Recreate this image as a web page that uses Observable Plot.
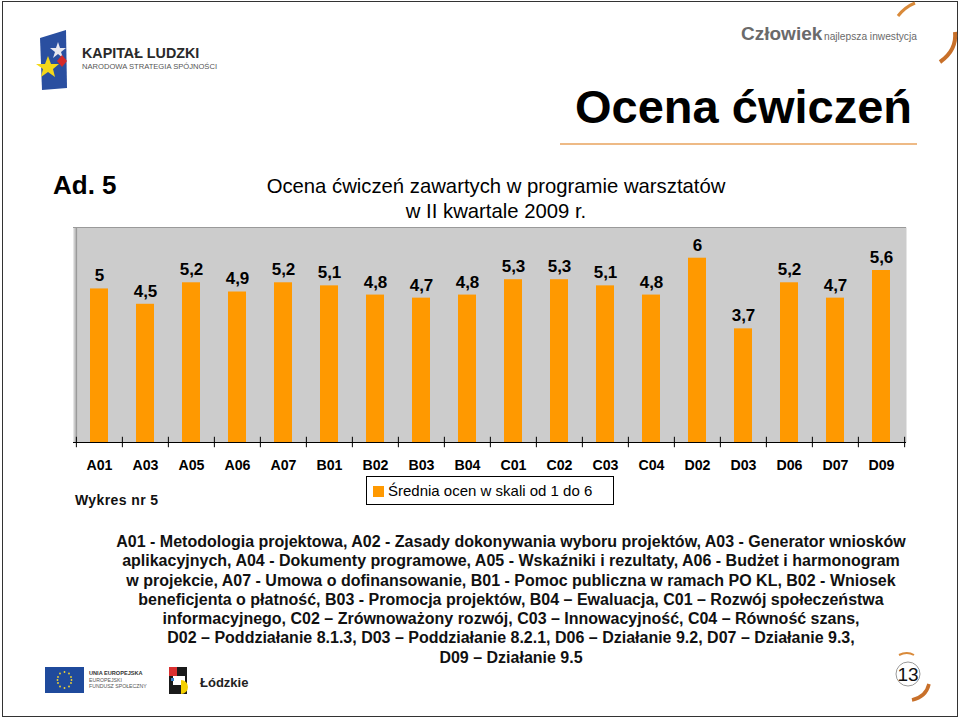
<!DOCTYPE html>
<html>
<head>
<meta charset="utf-8">
<script src="https://cdn.jsdelivr.net/npm/d3@7"></script>
<script src="https://cdn.jsdelivr.net/npm/@observablehq/plot@0.6"></script>
<style>
  html, body { margin: 0; padding: 0; background: #fff; }
  body { width: 960px; height: 718px; position: relative; overflow: hidden; font-family: "Liberation Sans", Arial, sans-serif; }
  .abs { position: absolute; white-space: nowrap; }
  #frame { position: absolute; left: 2px; top: 1px; border: 1.5px solid #333; box-sizing: border-box; width: 956px; height: 716px; }
  #chart { position: absolute; left: 0; top: 200px; }
  #caption { position: absolute; left: 61px; width: 900px; top: 532px; text-align: center; font-weight: bold; font-size: 16px; line-height: 19.3px; color: #111; }
</style>
</head>
<body>
<div id="frame"></div>

<!-- decorative logos -->
<svg class="abs" style="left:0;top:0" width="960" height="718">
  <!-- Kapitał Ludzki -->
  <path d="M40,38 L66,30 L67,88 L42,90 Z" fill="#2a4fa0"/>
  <polygon points="58,42 60,48 66,48 61,52 63,58 58,54 53,58 55,52 50,48 56,48" fill="#e8e8f0"/>
  <polygon points="48,56 51,64 59,64 53,69 55,77 48,72 41,77 43,69 36,64 45,64" fill="#f4d81a"/>
  <polygon points="62,55 67,61 62,67 57,61" fill="#d42a2a"/>
  <text x="82" y="58" font-family="Liberation Sans, Arial" font-weight="bold" font-size="14.3" fill="#2a2a2a">KAPITAŁ LUDZKI</text>
  <text x="82" y="69" font-family="Liberation Sans, Arial" font-size="7.6" fill="#555">NARODOWA STRATEGIA SPÓJNOŚCI</text>
  <!-- Człowiek -->
  <text x="741" y="40" font-family="Liberation Sans, Arial" font-weight="bold" font-size="19" fill="#6a6a6a">Człowiek</text>
  <text x="824" y="40" font-family="Liberation Sans, Arial" font-size="10.2" fill="#6a6a6a">najlepsza inwestycja</text>
  <path d="M898,16 Q905,7 915,3" stroke="#d98a3a" stroke-width="3" fill="none"/>
  <path d="M955,32 Q957,50 940,62" stroke="#c8702a" stroke-width="4" fill="none"/>
  <!-- title underline -->
  <line x1="560" y1="144" x2="917" y2="144" stroke="#e8a35e" stroke-width="1.5"/>
  <!-- EU -->
  <rect x="45" y="667" width="39" height="26" fill="#1f4a9c"/>
  <g fill="#f2d530">
    <circle cx="64.5" cy="672" r="0.9"/><circle cx="69" cy="673.5" r="0.9"/><circle cx="71" cy="677" r="0.9"/><circle cx="71.5" cy="680" r="0.9"/>
    <circle cx="71" cy="683" r="0.9"/><circle cx="69" cy="686.5" r="0.9"/><circle cx="64.5" cy="688" r="0.9"/><circle cx="60" cy="686.5" r="0.9"/>
    <circle cx="58" cy="683" r="0.9"/><circle cx="57.5" cy="680" r="0.9"/><circle cx="58" cy="677" r="0.9"/><circle cx="60" cy="673.5" r="0.9"/>
  </g>
  <text x="89" y="675" font-family="Liberation Sans, Arial" font-weight="bold" font-size="5.6" fill="#333">UNIA EUROPEJSKA</text>
  <text x="89" y="682" font-family="Liberation Sans, Arial" font-size="5.2" fill="#555">EUROPEJSKI</text>
  <text x="89" y="688" font-family="Liberation Sans, Arial" font-size="5.2" fill="#555">FUNDUSZ SPOŁECZNY</text>
  <!-- Łódzkie -->
  <rect x="169" y="667" width="18" height="27" fill="#1a1a1a"/>
  <rect x="169" y="667" width="8" height="9" fill="#d93030"/>
  <rect x="173" y="676" width="12" height="9" fill="#ffffff"/>
  <path d="M181,680 A7,7 0 0 1 181,694 Z" fill="#f4d000"/>
  <rect x="171" y="678" width="3" height="3" fill="#3a7fc4"/>
  <text x="200" y="687" font-family="Liberation Sans, Arial" font-weight="bold" font-size="13" fill="#222">Łódzkie</text>
  <!-- page number -->
  <circle cx="908" cy="674" r="12" fill="none" stroke="#999" stroke-width="1"/>
  <text x="908" y="681" text-anchor="middle" font-family="Liberation Sans, Arial" font-size="19" fill="#111">13</text>
  <path d="M899,655 Q907,651 914,655" stroke="#d98a3a" stroke-width="2" fill="none"/>
  <path d="M929,684 Q926,697 912,700" stroke="#c8702a" stroke-width="3.5" fill="none"/>
</svg>

<div class="abs" style="left:575px;top:79px;font-size:47px;font-weight:bold;color:#000;line-height:56px;" id="title">Ocena ćwiczeń</div>
<div class="abs" style="left:53px;top:170px;font-size:26px;font-weight:bold;color:#000;line-height:30px;">Ad. 5</div>
<div class="abs" style="left:196px;width:600px;top:174px;text-align:center;font-size:20.3px;color:#000;line-height:25px;white-space:normal;">Ocena ćwiczeń zawartych w programie warsztatów<br>w II kwartale 2009 r.</div>

<div id="chart"></div>

<div class="abs" style="left:75px;top:490px;font-size:14px;font-weight:bold;letter-spacing:0.4px;color:#111;line-height:20px;">Wykres nr 5</div>

<div class="abs" style="left:366px;top:476px;width:248px;height:29px;border:1px solid #000;box-sizing:border-box;background:#fff;">
  <div style="position:absolute;left:6px;top:9px;width:11px;height:11px;background:#ff9900;"></div>
  <div style="position:absolute;left:21px;top:4px;font-size:15px;line-height:19px;color:#000;">Średnia ocen w skali od 1 do 6</div>
</div>

<div id="caption">A01 - Metodologia projektowa, A02 - Zasady dokonywania wyboru projektów, A03 - Generator wniosków<br>aplikacyjnych, A04 - Dokumenty programowe, A05 - Wskaźniki i rezultaty, A06 - Budżet i harmonogram<br>w projekcie, A07 - Umowa o dofinansowanie, B01 - Pomoc publiczna w ramach PO KL, B02 - Wniosek<br>beneficjenta o płatność, B03 - Promocja projektów, B04 – Ewaluacja, C01 – Rozwój społeczeństwa<br>informacyjnego, C02 – Zrównoważony rozwój, C03 – Innowacyjność, C04 – Równość szans,<br>D02 – Poddziałanie 8.1.3, D03 – Poddziałanie 8.2.1, D06 – Działanie 9.2, D07 – Działanie 9.3,<br>D09 – Działanie 9.5</div>

<script>
const categories = ["A01","A03","A05","A06","A07","B01","B02","B03","B04","C01","C02","C03","C04","D02","D03","D06","D07","D09"];
const values = [5, 4.5, 5.2, 4.9, 5.2, 5.1, 4.8, 4.7, 4.8, 5.3, 5.3, 5.1, 4.8, 6, 3.7, 5.2, 4.7, 5.6];
const seriesName = "Średnia ocen w skali od 1 do 6";

const data = categories.map((c, i) => ({cat: c, value: values[i], label: String(values[i]).replace(".", ",")}));

const W = 960, H = 290, mL = 73, mR = 54, mT = 27, mB = 48;
const step = (W - mL - mR) / categories.length;
const last = categories[categories.length - 1];

const chart = Plot.plot({
  width: W, height: H,
  marginLeft: mL, marginRight: mR, marginTop: mT, marginBottom: mB,
  x: {domain: categories, paddingInner: 0.61, paddingOuter: 0.305, axis: null},
  y: {domain: [0, 7], axis: null},
  style: {background: "transparent", fontFamily: "Liberation Sans, Arial, sans-serif", color: "#000"},
  marks: [
    Plot.frame({fill: "#cccccc", stroke: null}),
    Plot.ruleY([7], {stroke: "#9a9a9a", strokeWidth: 1.2}),
    Plot.ruleX([categories[0]], {x: d => d, dx: -step / 2, y1: 0, y2: 7, stroke: "#9a9a9a", strokeWidth: 1.5}),
    Plot.barY(data, {x: "cat", y: "value", fill: "#ff9900"}),
    Plot.ruleY([0], {stroke: "#000", strokeWidth: 1}),
    Plot.ruleX(categories, {x: d => d, dx: -step / 2, y1: -0.17, y2: 0.17, stroke: "#000", strokeWidth: 1}),
    Plot.ruleX([last], {x: d => d, dx: step / 2, y1: -0.17, y2: 0.17, stroke: "#000", strokeWidth: 1}),
    Plot.text(data, {x: "cat", y: "value", text: "label", dy: -13, fontSize: 17, fontWeight: "bold", fill: "#000"}),
    Plot.text(data, {x: "cat", y: 0, text: "cat", dy: 23, fontSize: 14.2, fontWeight: "bold", fill: "#000"})
  ]
});
document.getElementById("chart").appendChild(chart);
</script>
</body>
</html>
